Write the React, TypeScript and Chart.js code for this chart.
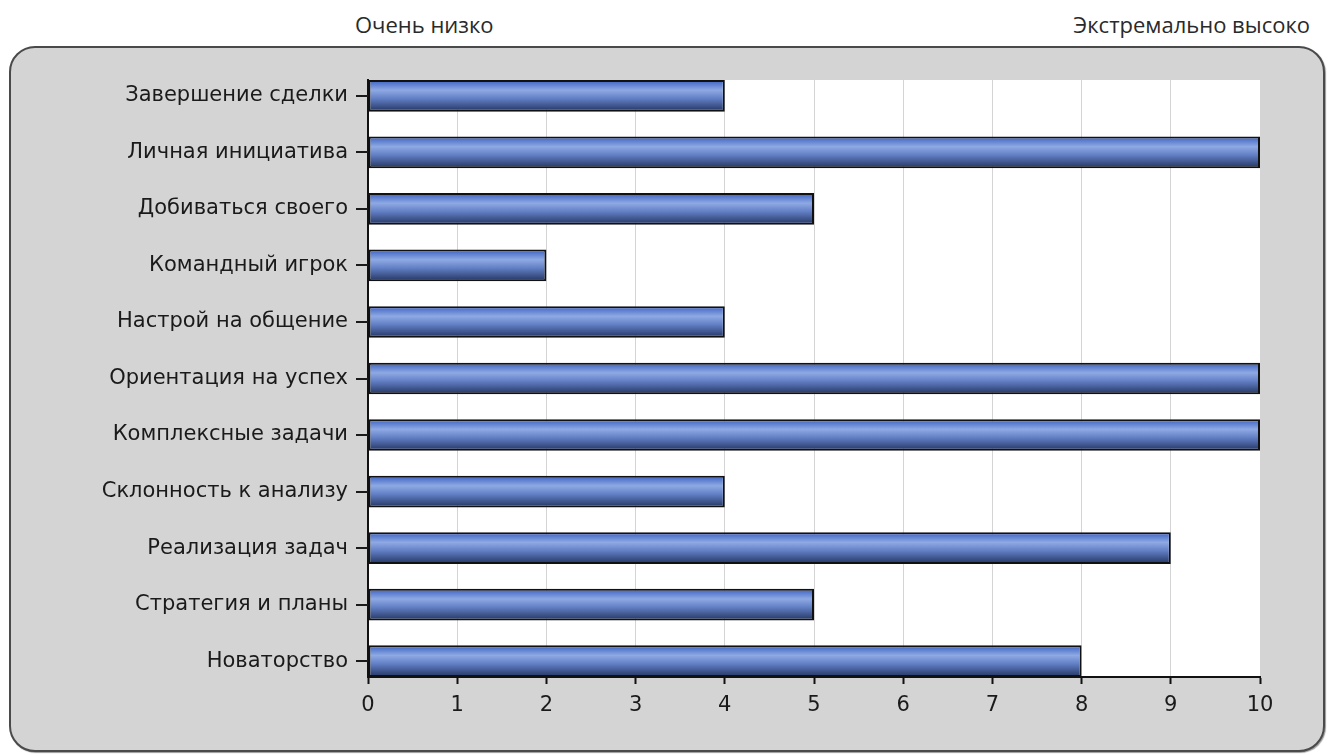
import React, { useEffect, useRef } from "react";
import { Chart, registerables } from "chart.js";

Chart.register(...registerables);

const categories: string[] = [
  "Завершение сделки",
  "Личная инициатива",
  "Добиваться своего",
  "Командный игрок",
  "Настрой на общение",
  "Ориентация на успех",
  "Комплексные задачи",
  "Склонность к анализу",
  "Реализация задач",
  "Стратегия и планы",
  "Новаторство",
];

const scores: number[] = [4, 10, 5, 2, 4, 10, 10, 4, 9, 5, 8];

const xTicks: number[] = [0, 1, 2, 3, 4, 5, 6, 7, 8, 9, 10];

const lowLabel = "Очень низко";
const highLabel = "Экстремально высоко";

const BAR_FRAC = 0.56;
const Y_TICK_LEN = 12;

export default function App() {
  const canvasRef = useRef<HTMLCanvasElement | null>(null);

  useEffect(() => {
    const canvas = canvasRef.current;
    if (!canvas) return;

    const plotBg = {
      id: "plotBg",
      beforeDraw(chart: any) {
        const { ctx, chartArea } = chart;
        ctx.save();
        ctx.fillStyle = "#ffffff";
        ctx.fillRect(
          chartArea.left,
          chartArea.top,
          chartArea.right - chartArea.left,
          chartArea.bottom - chartArea.top
        );
        ctx.restore();
      },
    };

    const yTickMarks = {
      id: "yTickMarks",
      afterDraw(chart: any) {
        const { ctx, chartArea } = chart;
        const y = chart.scales.y;
        ctx.save();
        ctx.strokeStyle = "#1a1a1a";
        ctx.lineWidth = 2;
        ctx.beginPath();
        const n = y.ticks.length;
        for (let i = 0; i < n; i++) {
          const py = Math.round(y.getPixelForValue(y.ticks[i].value));
          ctx.moveTo(chartArea.left - Y_TICK_LEN, py);
          ctx.lineTo(chartArea.left, py);
        }
        ctx.stroke();
        ctx.restore();
      },
    };

    const barGradient = (context: any) => {
      const chart = context.chart;
      const yScale = chart.scales?.y;
      if (!yScale || context.dataIndex === undefined) return "#5a78c4";
      const center = yScale.getPixelForValue(context.dataIndex);
      const spacing = Math.abs(yScale.getPixelForValue(1) - yScale.getPixelForValue(0));
      const half = (spacing * BAR_FRAC) / 2;
      if (!isFinite(center) || !isFinite(half) || half <= 0) return "#5a78c4";
      const g = chart.ctx.createLinearGradient(0, center - half, 0, center + half);
      g.addColorStop(0, "#3a60c2");
      g.addColorStop(0.32, "#8ea9e3");
      g.addColorStop(0.58, "#6380c6");
      g.addColorStop(1, "#223460");
      return g;
    };

    const chart = new Chart(canvas, {
      type: "bar",
      data: {
        datasets: [
          {
            data: scores.map((v, i) => ({ x: v, y: i })) as any,
            backgroundColor: barGradient,
            borderColor: "#111111",
            borderWidth: 2,
            borderSkipped: false,
            barPercentage: BAR_FRAC,
            categoryPercentage: 1,
          },
        ],
      },
      options: {
        indexAxis: "y",
        animation: false,
        responsive: false,
        maintainAspectRatio: false,
        layout: { padding: { left: 0, right: 70, top: 80, bottom: 0 } },
        plugins: {
          legend: { display: false },
          tooltip: { enabled: false },
          title: { display: false },
        },
        scales: {
          x: {
            type: "linear",
            position: "bottom",
            min: 0,
            max: 10,
            offset: false,
            afterBuildTicks: (scale: any) => {
              scale.ticks = xTicks.map((v) => ({ value: v }));
            },
            afterFit: (scale: any) => {
              scale.height = 79;
            },
            grid: {
              color: "#d4d4d4",
              lineWidth: 1,
              tickColor: "#111111",
              tickWidth: 2,
              tickLength: 7,
              drawOnChartArea: true,
              offset: false,
            },
            border: { display: true, color: "#111111", width: 2 },
            ticks: {
              color: "#1a1a1a",
              font: { family: "'DejaVu Sans'", size: 21 },
              padding: 9,
              maxRotation: 0,
              autoSkip: false,
            },
          },
          y: {
            type: "linear",
            reverse: true,
            bounds: "data",
            offset: false,
            min: -BAR_FRAC / 2,
            max: categories.length - 1 + BAR_FRAC / 2,
            afterBuildTicks: (scale: any) => {
              scale.ticks = categories.map((_, i) => ({ value: i }));
            },
            afterFit: (scale: any) => {
              scale.width = 368;
            },
            grid: {
              display: false,
              drawOnChartArea: false,
              tickLength: Y_TICK_LEN,
              offset: false,
            },
            border: { display: true, color: "#111111", width: 2 },
            ticks: {
              color: "#1a1a1a",
              font: { family: "'DejaVu Sans'", size: 21 },
              padding: 8,
              autoSkip: false,
              callback: (v: any) => categories[Number(v)] ?? "",
            },
          },
        },
      },
      plugins: [plotBg, yTickMarks],
    });

    return () => chart.destroy();
  }, []);

  return (
    <div
      style={{
        position: "fixed",
        left: 0,
        top: 0,
        width: 1330,
        height: 756,
        background: "#ffffff",
        overflow: "hidden",
      }}
    >
      <div
        style={{
          position: "absolute",
          left: 355,
          top: 10,
          lineHeight: "28px",
          fontSize: 22,
          fontFamily: "'Open Sans', sans-serif",
          color: "#2a2a2a",
          whiteSpace: "nowrap",
        }}
      >
        {lowLabel}
      </div>
      <div
        style={{
          position: "absolute",
          right: 20,
          top: 10,
          lineHeight: "28px",
          fontSize: 22,
          fontFamily: "'Open Sans', sans-serif",
          color: "#2a2a2a",
          whiteSpace: "nowrap",
        }}
      >
        {highLabel}
      </div>
      <div
        style={{
          position: "absolute",
          left: 9,
          top: 46,
          width: 1316,
          height: 706,
          boxSizing: "border-box",
          background: "#d4d4d4",
          border: "2px solid #4a4a4a",
          borderRadius: 26,
          boxShadow: "1px 1px 1px #9a9a9a",
        }}
      />
      <canvas
        ref={canvasRef}
        width={1330}
        height={756}
        style={{ position: "absolute", left: 0, top: 0, width: 1330, height: 756 }}
      />
    </div>
  );
}
